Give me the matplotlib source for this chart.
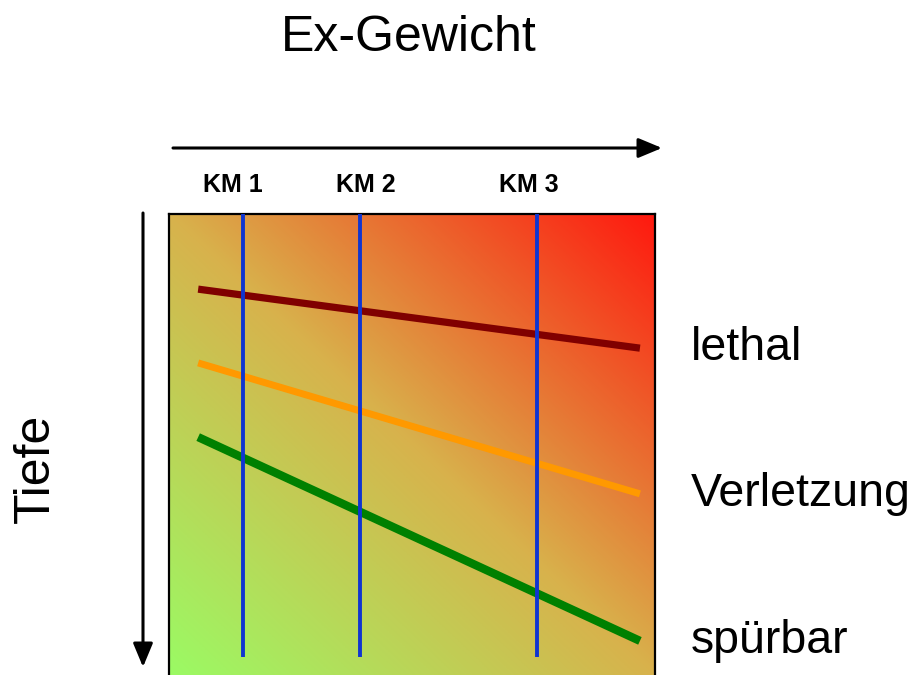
import numpy as np
import matplotlib
matplotlib.use("Agg")
import matplotlib.pyplot as plt
from matplotlib.colors import LinearSegmentedColormap

plt.rcParams["font.family"] = ["Liberation Sans", "DejaVu Sans"]

# -------------------- DATA --------------------
# x: Ex-Gewicht (0..10 across the box), y: Tiefe (0 at top .. 10 at bottom)
km_labels = ["KM 1", "KM 2", "KM 3"]
km_x = [1.52, 3.93, 7.57]
km_y_top, km_y_bottom = 0.0, 9.61

level_names = ["lethal", "Verletzung", "spürbar"]
level_colors = ["#800000", "#FF9900", "#008000"]
level_x = [0.60, 9.69]
level_y = {
    "lethal":     [1.63, 2.91],
    "Verletzung": [3.23, 6.07],
    "spürbar":    [4.84, 9.26],
}
level_lw = [5.2, 5.0, 6.0]

# background gradient: green (bottom-left) -> ochre -> red (top-right)
grad_stops = [(0.0, (155, 250, 100)), (0.5, (216, 178, 76)), (1.0, (255, 25, 15))]

# -------------------- FIGURE --------------------
W, H = 915, 675
fig = plt.figure(figsize=(W / 100, H / 100), dpi=100)

def fx(px):
    return px / W

def fy(py):
    return 1 - py / H

box_l, box_r, box_t, box_b = 169, 655, 214, 675
ax = fig.add_axes([fx(box_l), fy(box_b), (box_r - box_l) / W, (box_b - box_t) / H])
ax.set_xlim(0, 10)
ax.set_ylim(10, 0)

cmap = LinearSegmentedColormap.from_list(
    "grad", [(s, tuple(c / 255 for c in rgb)) for s, rgb in grad_stops])
gx, gy = np.meshgrid(np.linspace(0, 1, 300), np.linspace(0, 1, 300))
t = (gx + (1 - gy)) / 2  # rows go top -> bottom
ax.imshow(t, cmap=cmap, vmin=0, vmax=1, extent=[0, 10, 10, 0],
          aspect="auto", interpolation="bilinear", zorder=0)

for name, col, lw in zip(level_names, level_colors, level_lw):
    ax.plot(level_x, level_y[name], color=col, lw=lw,
            solid_capstyle="butt", zorder=2)

for xk in km_x:
    ax.plot([xk, xk], [km_y_top, km_y_bottom], color="#1035D0", lw=2.8,
            solid_capstyle="butt", zorder=3)

ax.set_xticks([])
ax.set_yticks([])
for side in ["left", "top", "right"]:
    ax.spines[side].set_linewidth(1.6)
    ax.spines[side].set_color("black")
ax.spines["bottom"].set_visible(False)

# -------------------- ANNOTATIONS --------------------
fig.text(fx(409), fy(51), "Ex-Gewicht", fontsize=36, ha="center", va="baseline")
fig.text(fx(36), fy(468), "Tiefe", fontsize=36, ha="center", va="center", rotation=90)

km_text_x = [233, 366, 529]
for lab, px in zip(km_labels, km_text_x):
    fig.text(fx(px), fy(192), lab, fontsize=18, fontweight="bold",
             ha="center", va="baseline")

level_text_y = [360, 506, 653]
for name, py in zip(level_names, level_text_y):
    fig.text(fx(691), fy(py), name, fontsize=33.5, ha="left", va="baseline")

# arrows
arrow_kw = dict(arrowstyle="-|>,head_length=1.2,head_width=0.5", color="black",
                lw=2.2, shrinkA=0, shrinkB=0)
fig.add_artist(matplotlib.patches.FancyArrowPatch(
    (fx(173), fy(148)), (fx(662), fy(148)), transform=fig.transFigure,
    mutation_scale=12, **arrow_kw))
fig.add_artist(matplotlib.patches.FancyArrowPatch(
    (fx(143), fy(213)), (fx(143), fy(667)), transform=fig.transFigure,
    mutation_scale=12, **arrow_kw))

fig.savefig("out.png", dpi=100, facecolor="white")
